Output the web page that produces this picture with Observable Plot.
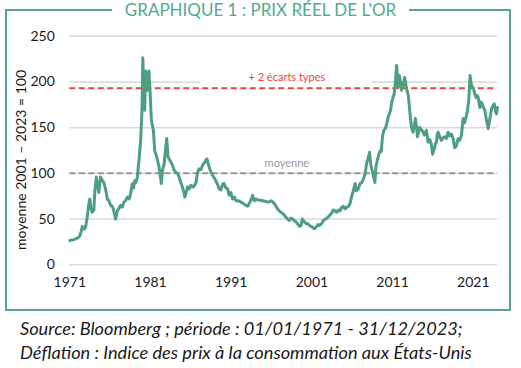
<!DOCTYPE html>
<html>
<head>
<meta charset="utf-8">
<script src="https://cdn.jsdelivr.net/npm/d3@7"></script>
<script src="https://cdn.jsdelivr.net/npm/@observablehq/plot@0.6"></script>
<style>
  html, body { margin: 0; padding: 0; background: #fff; }
  #wrap { position: relative; width: 521px; height: 368px; font-family: Lato, sans-serif; }
  #frame { position: absolute; left: 5px; top: 9px; width: 502px; height: 298px; border: 2px solid #5aa58a; box-sizing: content-box; }
  #title { position: absolute; left: 0; width: 521px; top: 0; text-align: center; font-size: 17px; line-height: 20px; color: #55a88c; }
  #title span { background: #fff; padding: 0 13px; }
  #chart { position: absolute; left: 0; top: 0; }
  #ylab { position: absolute; left: 20px; top: 160px; transform: translate(-50%, -50%) rotate(-90deg); white-space: nowrap; font-size: 14px; color: #1a1a1a; }
  #caption { position: absolute; left: 20px; top: 316px; font-style: italic; font-size: 18.2px; line-height: 24px; color: #1a1a1a; white-space: nowrap; }
</style>
</head>
<body>
<div id="wrap">
  <div id="frame"></div>
  <div id="chart"></div>
  <div id="title"><span>GRAPHIQUE 1 : PRIX RÉEL DE L'OR</span></div>
  <div id="ylab">moyenne 2001 – 2023 = 100</div>
  <div id="caption">Source: Bloomberg ; période : 01/01/1971 - 31/12/2023;<br>Déflation : Indice des prix à la consommation aux États-Unis</div>
</div>
<script>
const years = [
1971.0,1971.5,1971.9,1972.2,1972.4,1972.55,1972.8,1972.95,1973.16,1973.35,1973.48,1973.62,1973.78,1973.98,
1974.1,1974.28,1974.45,1974.6,1974.81,1975.0,1975.22,1975.45,1975.65,1975.85,1976.06,1976.25,1976.39,1976.55,
1976.68,1976.89,1977.1,1977.3,1977.5,1977.7,1977.9,1978.13,1978.35,1978.54,1978.75,1978.9,1979.04,1979.2,
1979.37,1979.57,1979.78,1979.95,1980.05,1980.15,1980.28,1980.4,1980.61,1980.81,1980.94,1981.11,1981.36,1981.52,
1981.77,1982.06,1982.35,1982.48,1982.68,1982.85,1983.01,1983.17,1983.42,1983.72,1983.9,1984.13,1984.35,1984.54,
1984.75,1984.96,1985.15,1985.25,1985.45,1985.58,1985.8,1985.99,1986.3,1986.62,1986.8,1987.02,1987.25,1987.45,
1987.7,1987.98,1988.1,1988.27,1988.5,1988.69,1988.9,1989.1,1989.3,1989.51,1989.72,1989.93,1990.1,1990.34,
1990.55,1990.75,1990.96,1991.17,1991.4,1991.58,1991.9,1992.2,1992.5,1992.82,1993.05,1993.24,1993.5,1993.66,
1993.86,1994.05,1994.28,1994.6,1994.9,1995.2,1995.52,1995.75,1995.93,1996.1,1996.34,1996.55,1996.76,1996.95,
1997.17,1997.4,1997.6,1997.79,1998.0,1998.2,1998.4,1998.63,1998.85,1999.04,1999.3,1999.5,1999.66,1999.8,
2000.07,2000.3,2000.5,2000.69,2000.9,2001.1,2001.31,2001.5,2001.75,2001.93,2002.2,2002.42,2002.7,2002.97,
2003.2,2003.38,2003.66,2003.85,2004.07,2004.3,2004.5,2004.7,2004.9,2005.11,2005.35,2005.55,2005.73,2005.93,
2006.1,2006.36,2006.5,2006.7,2006.98,2007.2,2007.39,2007.6,2007.8,2007.93,2008.15,2008.3,2008.45,2008.6,
2008.8,2008.95,2009.1,2009.3,2009.48,2009.6,2009.75,2009.9,2010.1,2010.3,2010.45,2010.6,2010.75,2010.9,
2011.05,2011.2,2011.35,2011.5,2011.6,2011.68,2011.85,2012.1,2012.3,2012.5,2012.7,2012.95,2013.2,2013.35,
2013.53,2013.7,2013.82,2014.0,2014.07,2014.25,2014.35,2014.55,2014.78,2014.95,2015.19,2015.3,2015.4,2015.6,
2015.8,2015.95,2016.15,2016.3,2016.43,2016.55,2016.64,2016.85,2017.05,2017.25,2017.46,2017.65,2017.88,2018.05,
2018.29,2018.5,2018.7,2018.9,2019.12,2019.3,2019.53,2019.74,2019.9,2020.15,2020.3,2020.44,2020.6,2020.77,
2020.98,2021.19,2021.35,2021.5,2021.61,2021.81,2021.95,2022.11,2022.25,2022.43,2022.6,2022.85,2023.0,2023.15,
2023.26,2023.45,2023.6,2023.75,2023.88,2024.0
];
const realGold = [
26.6,27.5,29,31,36,42,39,41,52,66,72,62,57.5,60,
80,96,86,79,96,93,90,82,72,70,65,64,61,55,
50,59,62,65,63,68.5,70,74,72,77.7,88.6,84,92,90,
96,114,136,170,226.5,190,169,212,191,212,190,158,147,125,
118,107,89,103,110,125,138,118,114,109,104,101,100,96,
90,85,79,74,80,85,83,87,85,89,100,105,104,109,
112,116,112,107,101,98,95,92,88,83,82,88,89,84,
83,76,79,72,74,70,70,68.5,67,65,64,67,72,76,
70,72,71,70.5,70,69.5,68.5,69,70,69,67,64,61,59,
57.5,56,54,52,50,48.5,51,50,48,47,44,42,43,50,
47,45,45,43,42,41,39.4,41,44,43,45,48.5,50,52,
54,55.8,60,59,57.5,60,59,63,64,61,63,64,67,75,
80,89,81,82,89,90,94,100,112,115,123,109,104,98,
90,108,114,121,125,124,140,147,149,155,161.5,165,169,178,
183,187,200,218,205,194,207,191,196,205,194,185,161.5,150,
145,152,160,148,140,146,150.5,148,145,142,147,140,134,137,
132,121,126,132,134,143,145,140,136,139,140,138,145,141,
143,138,128,130,138,136,141.5,160,155,163,170,180,207,196,
194,187,183,185,183,172,178,176,172,169,160,149,157,165,
171,174,176,168,165,172
];
const xTicks = [1971, 1981, 1991, 2001, 2011, 2021];
const yTicks = [0, 50, 100, 150, 200, 250];
const meanLevel = [100];
const twoSigmaLevel = [193];
const labels = ["+ 2 écarts types", "moyenne"];
const labelX = [1997.9, 1997.9];
const labelY = [205, 110.5];
const labelBox = [{x1: 1987.2, x2: 2008.5, y1: 197, y2: 216}];

const data = years.map((y, i) => ({year: y, value: realGold[i]}));
const ann = labels.map((t, i) => ({text: t, x: labelX[i], y: labelY[i]}));

const chart = Plot.plot({
  width: 521,
  height: 300,
  marginLeft: 69.3,
  marginRight: 24,
  marginTop: 35.7,
  marginBottom: 35.7,
  style: {fontFamily: "Lato, sans-serif", fontSize: "14px", color: "#1a1a1a", background: "transparent", overflow: "visible"},
  x: {domain: [1971, 2024], ticks: xTicks, tickFormat: d => String(d), tickSize: 0, tickPadding: 12, label: null},
  y: {domain: [0, 250], ticks: yTicks, tickSize: 0, tickPadding: 15, label: null},
  marks: [
    Plot.ruleY(yTicks, {stroke: "#d9d9d9", strokeWidth: 1.5}),
    Plot.rect(labelBox, {x1: "x1", x2: "x2", y1: "y1", y2: "y2", fill: "#fff"}),
    Plot.ruleY(meanLevel, {stroke: "#9a969c", strokeWidth: 2, strokeDasharray: "6,3.5"}),
    Plot.ruleY(twoSigmaLevel, {stroke: "#e8473b", strokeWidth: 2, strokeDasharray: "6,3.5"}),
    Plot.text(ann, {x: "x", y: "y", text: "text", fontSize: 11, fill: (d, i) => i === 0 ? "#e8473b" : "#9a969c"}),
    Plot.lineY(data, {x: "year", y: "value", stroke: "#4e9e80", strokeWidth: 3, strokeLinejoin: "round", strokeLinecap: "round"})
  ]
});
document.getElementById("chart").appendChild(chart);
</script>
</body>
</html>
